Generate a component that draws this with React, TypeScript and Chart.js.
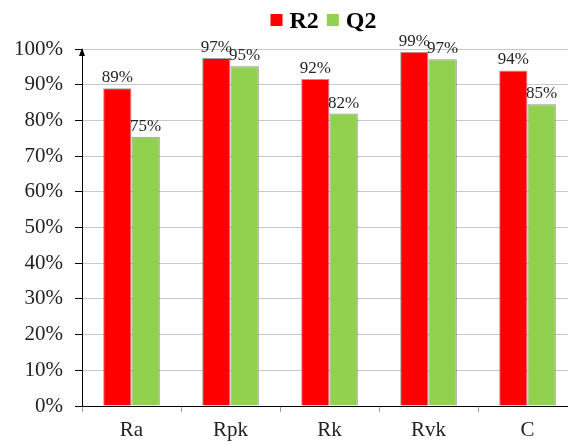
import React, { useEffect, useRef } from "react";
import { Chart, registerables } from "chart.js";

Chart.register(...registerables);

const categories = ["Ra", "Rpk", "Rk", "Rvk", "C"];
const r2Values = [89, 97.5, 91.6, 99.2, 94];
const q2Values = [75.4, 95.2, 81.9, 97.1, 84.5];
const r2Labels = ["89%", "97%", "92%", "99%", "94%"];
const q2Labels = ["75%", "95%", "82%", "97%", "85%"];
const seriesNames = ["R2", "Q2"];
const seriesColors = ["#ff0000", "#92d050"];
const yTicks = [0, 10, 20, 30, 40, 50, 60, 70, 80, 90, 100];

const FONT = "'Liberation Serif', 'Times New Roman', serif";

const valueLabelPlugin = {
  id: "valueLabels",
  afterDatasetsDraw(chart: any) {
    const ctx = chart.ctx;
    const labelSets = [r2Labels, q2Labels];
    ctx.save();
    ctx.font = `17px ${FONT}`;
    ctx.fillStyle = "#262626";
    ctx.textAlign = "center";
    ctx.textBaseline = "alphabetic";
    chart.data.datasets.forEach((ds: any, di: number) => {
      const meta = chart.getDatasetMeta(di);
      meta.data.forEach((el: any, i: number) => {
        ctx.fillText(labelSets[di][i], el.x, el.y - 6);
      });
    });
    ctx.restore();
  },
};

const axisArrowPlugin = {
  id: "axisArrow",
  afterDraw(chart: any) {
    const ctx = chart.ctx;
    const x = chart.chartArea.left;
    const y = chart.chartArea.top;
    ctx.save();
    ctx.fillStyle = "#000";
    ctx.beginPath();
    ctx.moveTo(x, y - 1);
    ctx.lineTo(x - 3, y + 7);
    ctx.lineTo(x + 3, y + 7);
    ctx.closePath();
    ctx.fill();
    ctx.restore();
  },
};

const legendPlugin = {
  id: "customLegend",
  afterDraw(chart: any) {
    const ctx = chart.ctx;
    ctx.save();
    ctx.font = `bold 24px ${FONT}`;
    ctx.textBaseline = "alphabetic";
    ctx.textAlign = "left";
    const box = 12;
    const gapBoxText = 7;
    const gapItems = 8;
    const widths = seriesNames.map((n) => ctx.measureText(n).width);
    const total =
      widths.reduce((a, b) => a + b, 0) +
      seriesNames.length * (box + gapBoxText) +
      (seriesNames.length - 1) * gapItems;
    const center = (chart.chartArea.left + chart.chartArea.right) / 2 - 6;
    let x = center - total / 2;
    seriesNames.forEach((n, i) => {
      ctx.fillStyle = seriesColors[i];
      ctx.fillRect(x, 14, box, box);
      x += box + gapBoxText;
      ctx.fillStyle = "#000";
      ctx.fillText(n, x, 28);
      x += widths[i] + gapItems;
    });
    ctx.restore();
  },
};

export default function App() {
  const ref = useRef<HTMLCanvasElement | null>(null);

  useEffect(() => {
    if (!ref.current) return;
    const chart = new Chart(ref.current, {
      type: "bar",
      data: {
        labels: categories,
        datasets: [
          {
            label: seriesNames[0],
            data: r2Values,
            backgroundColor: seriesColors[0],
            borderColor: "rgba(120,120,120,0.7)",
            borderWidth: 1,
            barPercentage: 1,
            categoryPercentage: 0.572,
          },
          {
            label: seriesNames[1],
            data: q2Values,
            backgroundColor: seriesColors[1],
            borderColor: "rgba(120,120,120,0.8)",
            borderWidth: 1,
            barPercentage: 1,
            categoryPercentage: 0.572,
          },
        ],
      },
      options: {
        responsive: false,
        animation: false,
        devicePixelRatio: 1,
        layout: { padding: { top: 49, right: 23, left: 0, bottom: 0 } },
        plugins: {
          legend: { display: false },
          tooltip: { enabled: false },
        },
        scales: {
          x: {
            afterFit(scale: any) {
              scale.height = 40;
            },
            grid: {
              display: true,
              drawOnChartArea: false,
              drawTicks: true,
              tickLength: 6,
              color: "#999",
              offset: true,
            },
            border: { display: true, color: "#000", width: 1 },
            ticks: {
              font: { family: FONT, size: 21 },
              color: "#222",
              padding: 6,
            },
          },
          y: {
            min: 0,
            max: 100,
            afterFit(scale: any) {
              scale.width = 82;
            },
            afterBuildTicks(scale: any) {
              scale.ticks = yTicks.map((v) => ({ value: v }));
            },
            grid: {
              color: "#c8c8c8",
              borderDash: [4, 3],
              tickColor: "#000",
              tickLength: 7,
              tickBorderDash: [],
            } as any,
            border: { display: true, color: "#000", width: 1 },
            ticks: {
              font: { family: FONT, size: 21 },
              color: "#222",
              padding: 12,
              callback: (v: any) => `${v}%`,
            },
          },
        },
      },
      plugins: [valueLabelPlugin, axisArrowPlugin, legendPlugin],
    });
    return () => chart.destroy();
  }, []);

  return (
    <div
      style={{
        position: "absolute",
        left: 0,
        top: 0,
        width: 568,
        height: 446,
        overflow: "hidden",
        background: "#fff",
      }}
    >
      <canvas ref={ref} width={600} height={446} style={{ display: "block" }} />
    </div>
  );
}
